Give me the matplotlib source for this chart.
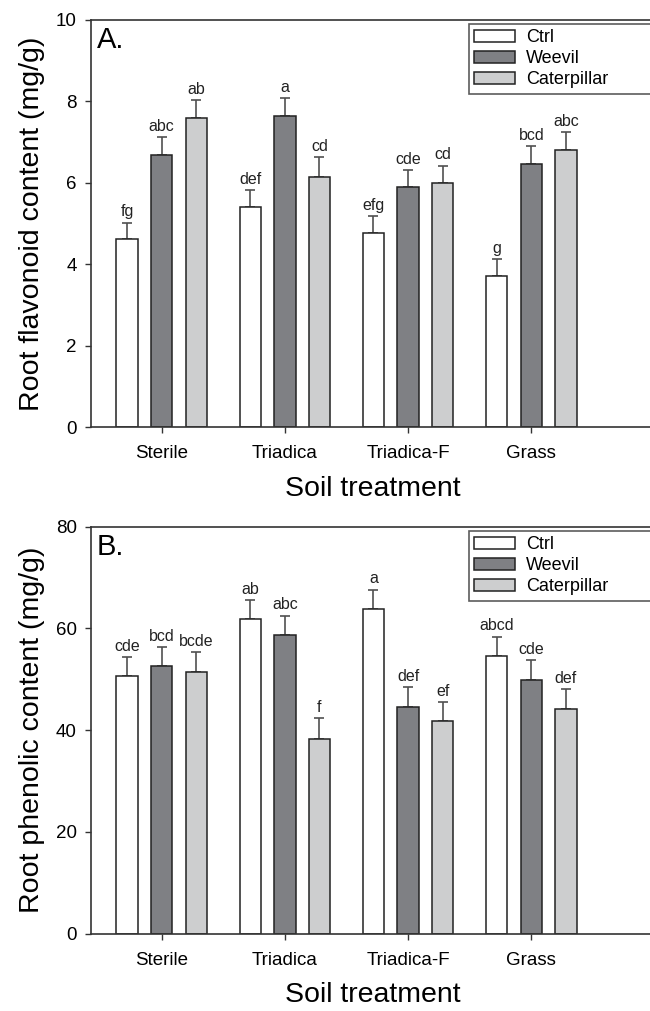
import numpy as np
import matplotlib
matplotlib.use("Agg")
import matplotlib.pyplot as plt

plt.rcParams['font.family'] = ['Liberation Sans', 'DejaVu Sans']

# soil treatments and herbivory treatments
soils = ['Sterile', 'Triadica', 'Triadica-F', 'Grass']
groups = ['Ctrl', 'Weevil', 'Caterpillar']

# panel A: root flavonoid content (mg/g), means and SE
flav_ctrl = [4.61, 5.40, 4.77, 3.72]
flav_weevil = [6.69, 7.65, 5.89, 6.46]
flav_cat = [7.60, 6.15, 6.00, 6.81]
flav_ctrl_se = [0.41, 0.42, 0.41, 0.40]
flav_weevil_se = [0.43, 0.43, 0.42, 0.44]
flav_cat_se = [0.43, 0.48, 0.42, 0.43]
flav_letters = [['fg', 'def', 'efg', 'g'],
                ['abc', 'a', 'cde', 'bcd'],
                ['ab', 'cd', 'cd', 'abc']]

# panel B: root phenolic content (mg/g), means and SE
phen_ctrl = [50.6, 61.8, 63.8, 54.6]
phen_weevil = [52.6, 58.7, 44.6, 49.9]
phen_cat = [51.5, 38.2, 41.7, 44.1]
phen_ctrl_se = [3.8, 3.8, 3.8, 3.8]
phen_weevil_se = [3.7, 3.8, 3.9, 3.9]
phen_cat_se = [3.8, 4.2, 3.8, 3.9]
phen_letters = [['cde', 'ab', 'a', 'abcd'],
                ['bcd', 'abc', 'def', 'cde'],
                ['bcde', 'f', 'ef', 'def']]

colors = ['white', '#7f8084', '#cdcecf']
W, H = 650, 1011
fig = plt.figure(figsize=(W / 100, H / 100), dpi=100)

x = np.arange(len(soils))
width = 0.173
step = 0.281


def draw_panel(ax, means, ses, letters, ymax, yticks, ylabel, tag, off):
    for i, (m, s, c, lab) in enumerate(zip(means, ses, colors, groups)):
        pos = x + (i - 1) * step
        ax.bar(pos, m, width, color=c, edgecolor='#222222', linewidth=1.1,
               label=lab, zorder=2)
        ax.errorbar(pos, m, yerr=[np.zeros(len(m)), s], fmt='none',
                    ecolor='#505050', elinewidth=1.2, capsize=3.9,
                    capthick=1.2, zorder=1)
        for p, mv, sv, t in zip(pos, m, s, letters[i]):
            ax.text(p, mv + sv + off, t, ha='center', va='bottom',
                    fontsize=11.5, color='#222222')
    # right part of the frame is cut off in the original figure
    ax.set_xlim(-0.573, 4.06)
    ax.set_ylim(0, ymax)
    ax.set_yticks(yticks)
    ax.set_xticks(x)
    ax.set_xticklabels(soils)
    ax.tick_params(axis='x', length=4, width=1, pad=9, labelsize=13.5,
                   color='#333333')
    ax.tick_params(axis='y', length=4.3, width=1, pad=6, labelsize=13.5,
                   color='#333333')
    for sp in ax.spines.values():
        sp.set_color('#333333')
        sp.set_linewidth(1.2)
    ax.set_xlabel('Soil treatment', fontsize=20.5, labelpad=10)
    ax.xaxis.label.set_x(0.494)
    ax.set_ylabel(ylabel, fontsize=20.5, labelpad=8)
    ax.text(0.01, 0.985, tag, transform=ax.transAxes, ha='left', va='top',
            fontsize=21)
    leg = ax.legend(loc='upper left', bbox_to_anchor=(0.662, 0.0, 0.36, 0.99),
                    mode='expand', fontsize=13, frameon=True, fancybox=False,
                    borderaxespad=0, borderpad=0.3, labelspacing=0.22,
                    handlelength=2.27, handleheight=0.66,
                    handletextpad=0.6)
    leg.get_frame().set_edgecolor('#333333')
    leg.get_frame().set_linewidth(1.2)


left = 91 / W
aw = (662 - 91) / W
ax1 = fig.add_axes([left, 1 - 427 / H, aw, 407 / H])
draw_panel(ax1, [flav_ctrl, flav_weevil, flav_cat],
           [flav_ctrl_se, flav_weevil_se, flav_cat_se], flav_letters,
           10, [0, 2, 4, 6, 8, 10], 'Root flavonoid content (mg/g)', 'A.', 0.08)

ax2 = fig.add_axes([left, 1 - 933.5 / H, aw, 406.8 / H])
draw_panel(ax2, [phen_ctrl, phen_weevil, phen_cat],
           [phen_ctrl_se, phen_weevil_se, phen_cat_se], phen_letters,
           80, [0, 20, 40, 60, 80], 'Root phenolic content (mg/g)', 'B.', 0.64)

fig.savefig('out.png', dpi=100)
